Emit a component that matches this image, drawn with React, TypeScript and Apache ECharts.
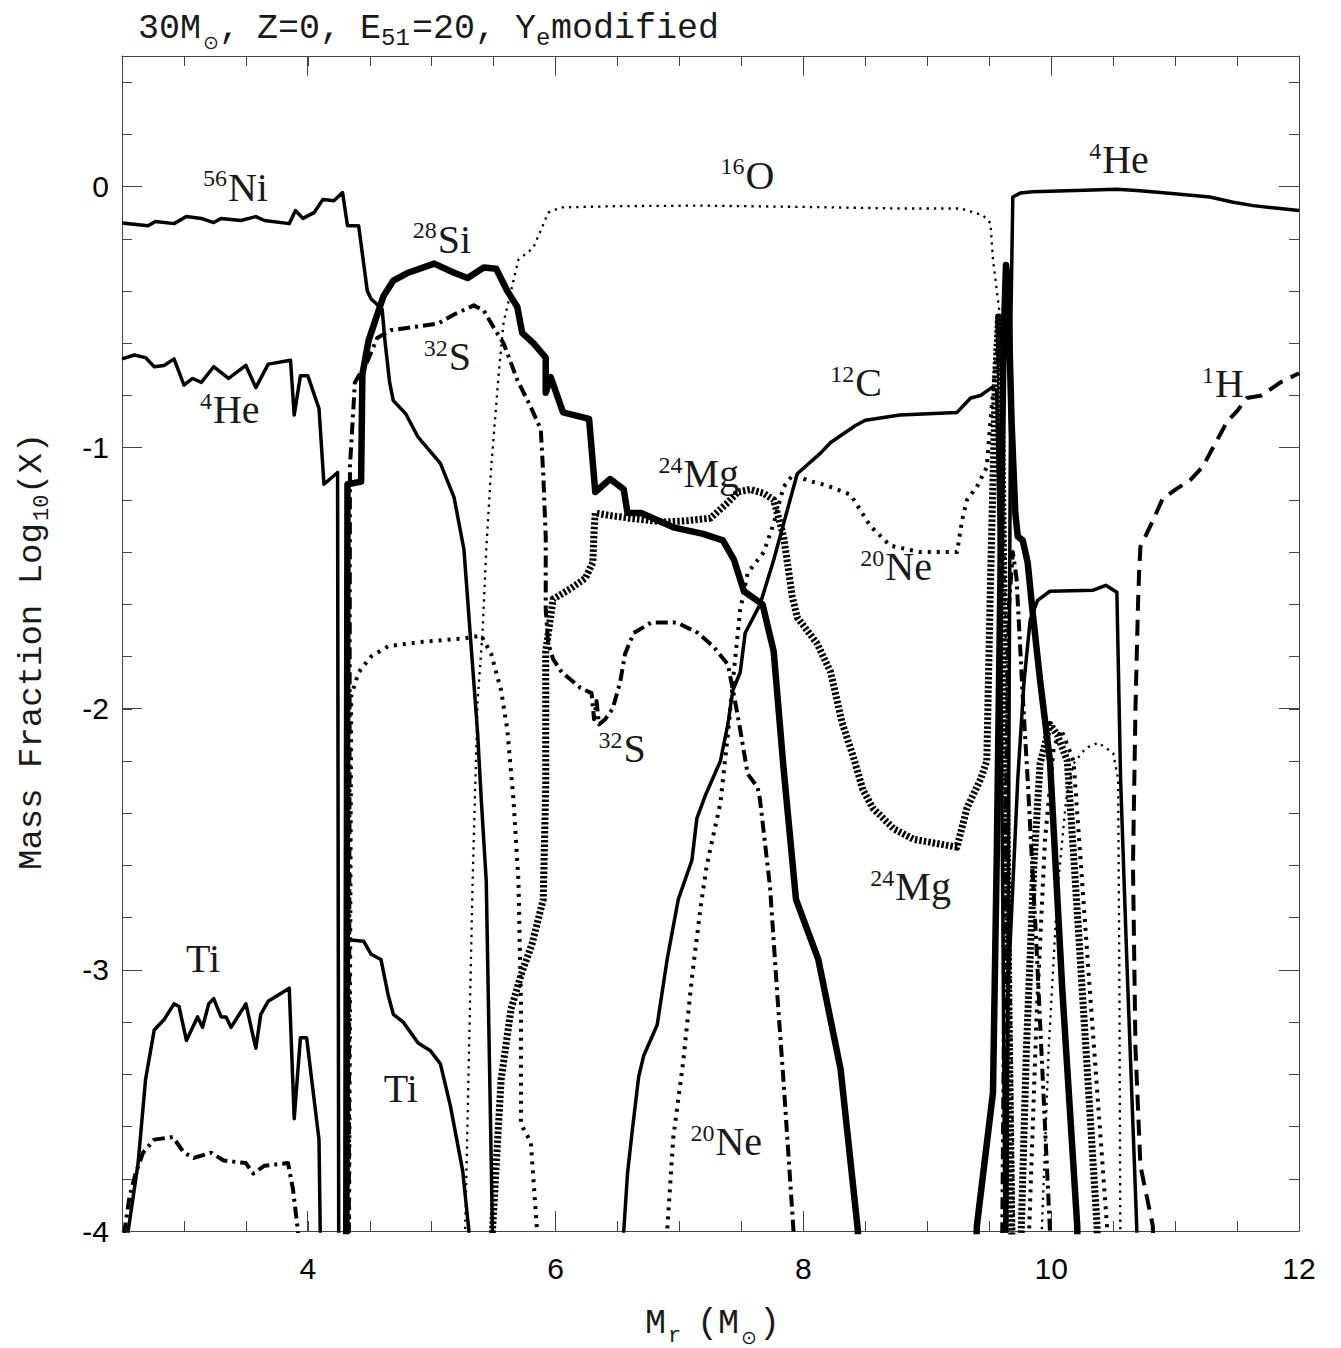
import React, { useEffect, useRef } from 'react';
import * as echarts from 'echarts';

type XY = [number, number];

// Axis ranges and tick spacing
const X_MIN = 2.5;
const X_MAX = 12;
const Y_MIN = -4;
const Y_MAX = 0.5;
const X_MINOR = 0.5;
const Y_MINOR = 0.2;
const X_MAJOR = 2;
const Y_MAJOR = 1;

// Abundance profiles: mass coordinate (Msun) vs log10 mass fraction
const ni56: XY[] = [[2.5,-0.14],[2.71,-0.15],[2.77,-0.134],[2.92,-0.142],[3.02,-0.115],[3.14,-0.122],[3.24,-0.138],[3.30,-0.122],[3.46,-0.13],[3.58,-0.115],[3.65,-0.13],[3.85,-0.142],[3.90,-0.092],[3.96,-0.122],[4.05,-0.10],[4.12,-0.05],[4.21,-0.054],[4.28,-0.023],[4.32,-0.15],[4.41,-0.15],[4.48,-0.40],[4.51,-0.43],[4.60,-0.47],[4.62,-0.58],[4.66,-0.75],[4.69,-0.82],[4.79,-0.87],[4.89,-0.96],[5.07,-1.06],[5.18,-1.19],[5.26,-1.39],[5.31,-1.71],[5.37,-2.09],[5.40,-2.35],[5.44,-2.66],[5.49,-4.0],[5.495,-4.3]];

const he4Inner: XY[] = [[2.5,-0.66],[2.60,-0.645],[2.69,-0.655],[2.76,-0.69],[2.84,-0.685],[2.92,-0.66],[3.00,-0.76],[3.07,-0.735],[3.14,-0.75],[3.24,-0.69],[3.36,-0.735],[3.50,-0.685],[3.58,-0.77],[3.68,-0.68],[3.86,-0.665],[3.89,-0.875],[3.94,-0.725],[4.00,-0.725],[4.09,-0.85],[4.13,-1.14],[4.24,-1.095],[4.25,-4.3]];

const he4Outer: XY[] = [[9.64,-4.3],[9.66,-2.0],[9.675,-0.5],[9.69,-0.04],[9.75,-0.025],[9.85,-0.02],[10.2,-0.015],[10.53,-0.01],[10.69,-0.015],[10.93,-0.025],[11.28,-0.04],[11.47,-0.06],[11.63,-0.073],[12.0,-0.092]];

const si28Inner: XY[] = [[4.305,-4.3],[4.31,-4.0],[4.32,-1.14],[4.43,-1.13],[4.44,-0.72],[4.49,-0.59],[4.61,-0.42],[4.69,-0.36],[4.81,-0.33],[5.02,-0.295],[5.18,-0.33],[5.29,-0.35],[5.42,-0.31],[5.52,-0.315],[5.61,-0.40],[5.69,-0.46],[5.73,-0.56],[5.82,-0.60],[5.92,-0.655],[5.92,-0.79],[5.96,-0.73],[6.06,-0.865],[6.27,-0.89],[6.32,-1.17],[6.44,-1.12],[6.55,-1.16],[6.58,-1.25],[6.69,-1.25],[6.95,-1.305],[7.19,-1.33],[7.35,-1.355],[7.44,-1.43],[7.52,-1.55],[7.67,-1.60],[7.76,-1.78],[7.84,-2.23],[7.94,-2.73],[8.12,-2.96],[8.30,-3.38],[8.44,-4.0],[8.45,-4.3]];

const si28Outer: XY[] = [[9.38,-4.3],[9.40,-3.98],[9.53,-3.47],[9.56,-2.58],[9.59,-1.5],[9.615,-0.6],[9.635,-0.3],[9.65,-0.36],[9.68,-0.9],[9.71,-1.25],[9.73,-1.34],[9.77,-1.355],[9.81,-1.44],[9.85,-1.63],[9.91,-1.89],[9.99,-2.20],[10.09,-3.08],[10.21,-3.98],[10.22,-4.3]];

const s32Inner: XY[] = [[4.33,-4.3],[4.34,-1.07],[4.38,-0.75],[4.48,-0.67],[4.56,-0.58],[4.67,-0.55],[5.05,-0.525],[5.18,-0.49],[5.34,-0.455],[5.42,-0.475],[5.50,-0.54],[5.58,-0.60],[5.69,-0.74],[5.80,-0.845],[5.88,-0.93],[5.90,-1.10],[5.92,-1.34],[5.92,-1.62],[5.94,-1.75],[5.98,-1.81],[6.05,-1.86],[6.20,-1.92],[6.29,-1.94],[6.31,-2.04],[6.33,-1.97],[6.35,-2.06],[6.40,-2.04],[6.46,-2.0],[6.52,-1.90],[6.56,-1.79],[6.63,-1.71],[6.77,-1.67],[6.98,-1.67],[7.15,-1.71],[7.27,-1.76],[7.39,-1.83],[7.44,-1.95],[7.49,-2.08],[7.55,-2.25],[7.63,-2.30],[7.65,-2.35],[7.73,-2.68],[7.79,-3.10],[7.84,-3.43],[7.92,-4.0],[7.93,-4.3]];

const s32Outer: XY[] = [[9.60,-4.3],[9.63,-2.5],[9.66,-1.6],[9.69,-1.40],[9.72,-1.5],[9.77,-1.95],[9.81,-2.27],[9.88,-2.9],[9.94,-3.5],[9.99,-4.0],[10.0,-4.3]];

const o16Main: XY[] = [[5.26,-4.3],[5.27,-4.0],[5.33,-2.66],[5.37,-1.97],[5.41,-1.71],[5.44,-1.39],[5.48,-1.075],[5.54,-0.72],[5.58,-0.52],[5.70,-0.28],[5.82,-0.235],[5.94,-0.10],[6.04,-0.08],[6.5,-0.075],[7.17,-0.073],[8.0,-0.078],[8.78,-0.084],[9.27,-0.084],[9.45,-0.11],[9.51,-0.14],[9.53,-0.28],[9.59,-0.51],[9.62,-1.3],[9.65,-2.3],[9.68,-3.3],[9.71,-4.3]];

const o16Outer: XY[] = [[9.90,-4.3],[9.98,-3.3],[10.05,-2.7],[10.12,-2.35],[10.18,-2.21],[10.28,-2.15],[10.38,-2.13],[10.50,-2.17],[10.54,-2.27],[10.55,-3.0],[10.56,-4.3]];

const ne20Inner: XY[] = [[4.33,-4.3],[4.35,-1.95],[4.41,-1.86],[4.51,-1.80],[4.65,-1.76],[4.90,-1.745],[5.27,-1.73],[5.40,-1.72],[5.48,-1.79],[5.56,-1.93],[5.61,-2.08],[5.66,-2.35],[5.70,-2.66],[5.72,-3.12],[5.72,-3.59],[5.80,-3.66],[5.85,-4.0],[5.86,-4.3]];

const ne20Main: XY[] = [[6.89,-4.3],[6.90,-4.0],[6.95,-3.64],[7.03,-3.35],[7.10,-3.03],[7.17,-2.76],[7.22,-2.60],[7.33,-2.36],[7.39,-2.10],[7.44,-1.85],[7.49,-1.62],[7.55,-1.48],[7.68,-1.40],[7.76,-1.29],[7.84,-1.15],[7.92,-1.10],[8.03,-1.125],[8.19,-1.145],[8.38,-1.18],[8.54,-1.30],[8.70,-1.375],[8.94,-1.40],[9.24,-1.40],[9.28,-1.28],[9.32,-1.20],[9.40,-1.15],[9.48,-1.075],[9.51,-0.895],[9.56,-0.64],[9.585,-0.55],[9.61,-1.5],[9.64,-2.6],[9.67,-3.6],[9.69,-4.3]];

const ne20Outer: XY[] = [[9.80,-4.3],[9.88,-3.2],[9.95,-2.5],[10.02,-2.15],[10.08,-2.08],[10.14,-2.15],[10.18,-2.2],[10.30,-3.0],[10.45,-3.98],[10.47,-4.3]];

const mg24Main: XY[] = [[5.48,-4.3],[5.49,-4.0],[5.56,-3.42],[5.64,-3.15],[5.72,-3.02],[5.81,-2.90],[5.90,-2.73],[5.92,-2.3],[5.92,-1.78],[5.98,-1.58],[6.12,-1.54],[6.24,-1.50],[6.30,-1.44],[6.31,-1.32],[6.32,-1.25],[6.44,-1.26],[6.60,-1.27],[6.87,-1.285],[7.06,-1.28],[7.25,-1.27],[7.39,-1.21],[7.47,-1.17],[7.57,-1.16],[7.68,-1.175],[7.76,-1.20],[7.80,-1.27],[7.84,-1.34],[7.91,-1.57],[7.95,-1.65],[8.11,-1.75],[8.22,-1.86],[8.31,-2.05],[8.40,-2.18],[8.48,-2.31],[8.56,-2.38],[8.73,-2.46],[8.89,-2.50],[9.24,-2.53],[9.32,-2.38],[9.43,-2.27],[9.48,-2.20],[9.51,-1.51],[9.53,-1.125],[9.55,-0.74],[9.575,-0.5],[9.60,-0.9],[9.62,-1.6],[9.64,-2.3],[9.66,-3.2],[9.69,-4.3]];

const mg24Outer: XY[] = [[9.74,-4.3],[9.80,-3.3],[9.86,-2.6],[9.91,-2.21],[9.99,-2.06],[10.05,-2.1],[10.13,-2.2],[10.2,-2.7],[10.28,-3.3],[10.37,-3.98],[10.38,-4.3]];

const c12: XY[] = [[6.54,-4.3],[6.55,-4.0],[6.58,-3.78],[6.62,-3.61],[6.67,-3.41],[6.71,-3.33],[6.82,-3.21],[6.90,-2.96],[6.99,-2.73],[7.10,-2.58],[7.14,-2.42],[7.21,-2.33],[7.33,-2.20],[7.39,-2.06],[7.43,-1.93],[7.49,-1.86],[7.53,-1.71],[7.65,-1.60],[7.76,-1.43],[7.95,-1.10],[8.14,-1.02],[8.22,-0.98],[8.42,-0.915],[8.50,-0.895],[8.78,-0.875],[9.24,-0.865],[9.35,-0.81],[9.43,-0.80],[9.52,-0.77],[9.56,-0.78],[9.59,-1.6],[9.61,-2.8],[9.63,-4.3],[9.65,-3.09],[9.73,-2.27],[9.78,-1.90],[9.83,-1.66],[9.89,-1.585],[9.99,-1.55],[10.34,-1.546],[10.44,-1.527],[10.53,-1.554],[10.56,-2.27],[10.61,-2.96],[10.69,-3.98],[10.70,-4.3]];

const h1: XY[] = [[10.84,-4.3],[10.82,-3.98],[10.72,-3.75],[10.68,-3.3],[10.66,-2.6],[10.68,-2.0],[10.70,-1.61],[10.71,-1.47],[10.72,-1.38],[10.82,-1.28],[10.90,-1.195],[11.02,-1.155],[11.12,-1.125],[11.22,-1.075],[11.34,-0.97],[11.42,-0.90],[11.50,-0.86],[11.58,-0.81],[11.70,-0.80],[11.85,-0.75],[12.0,-0.715]];

const tiInner: XY[] = [[2.545,-4.3],[2.55,-4.0],[2.63,-3.74],[2.69,-3.42],[2.76,-3.23],[2.84,-3.19],[2.92,-3.13],[2.96,-3.14],[3.02,-3.27],[3.11,-3.18],[3.15,-3.22],[3.20,-3.13],[3.24,-3.11],[3.30,-3.18],[3.34,-3.18],[3.38,-3.22],[3.50,-3.13],[3.58,-3.30],[3.62,-3.17],[3.68,-3.12],[3.85,-3.07],[3.89,-3.57],[3.94,-3.26],[3.99,-3.26],[4.09,-3.65],[4.10,-4.0],[4.105,-4.3]];

const tiOuter: XY[] = [[4.32,-4.3],[4.325,-2.885],[4.45,-2.89],[4.51,-2.94],[4.59,-2.96],[4.65,-3.10],[4.69,-3.17],[4.77,-3.20],[4.89,-3.28],[4.99,-3.31],[5.07,-3.36],[5.15,-3.52],[5.25,-3.77],[5.30,-4.0],[5.31,-4.3]];

const lowDashDot: XY[] = [[2.515,-4.3],[2.52,-4.0],[2.56,-3.87],[2.61,-3.78],[2.67,-3.70],[2.76,-3.65],[2.91,-3.64],[3.00,-3.70],[3.08,-3.72],[3.22,-3.70],[3.32,-3.73],[3.50,-3.74],[3.56,-3.78],[3.65,-3.75],[3.84,-3.74],[3.88,-3.84],[3.92,-4.0],[3.925,-4.3]];

// Line styles
const SOLID = { width: 3.5, type: 'solid' as const };
const SOLID_HEAVY = { width: 6.5, type: 'solid' as const };
const DASH_DOT = { width: 4, type: [12, 5, 3, 5] };
const DOT_FINE = { width: 2.3, type: [2.3, 5] };
const DOT_MED = { width: 4, type: [3, 6] };
const DOT_HEAVY = { width: 7, type: [2.5, 2] };
const DASHED = { width: 4, type: [16, 9] };

const curves: { name: string; data: XY[]; style: any }[] = [
  { name: 'O16-a', data: o16Main, style: DOT_FINE },
  { name: 'O16-b', data: o16Outer, style: DOT_FINE },
  { name: 'Ne20-a', data: ne20Inner, style: DOT_MED },
  { name: 'Ne20-b', data: ne20Main, style: DOT_MED },
  { name: 'Ne20-c', data: ne20Outer, style: DOT_MED },
  { name: 'Mg24-a', data: mg24Main, style: DOT_HEAVY },
  { name: 'Mg24-b', data: mg24Outer, style: DOT_HEAVY },
  { name: 'S32-a', data: s32Inner, style: DASH_DOT },
  { name: 'S32-b', data: s32Outer, style: DASH_DOT },
  { name: 'low-dd', data: lowDashDot, style: DASH_DOT },
  { name: 'H1', data: h1, style: DASHED },
  { name: 'Ti-a', data: tiInner, style: SOLID },
  { name: 'Ti-b', data: tiOuter, style: SOLID },
  { name: 'C12', data: c12, style: SOLID },
  { name: 'He4-a', data: he4Inner, style: SOLID },
  { name: 'He4-b', data: he4Outer, style: SOLID },
  { name: 'Ni56', data: ni56, style: SOLID },
  { name: 'Si28-a', data: si28Inner, style: SOLID_HEAVY },
  { name: 'Si28-b', data: si28Outer, style: SOLID_HEAVY },
];

// Species labels: superscript mass number, element, anchor (left of element text, baseline)
const curveLabels: { sup: string; text: string; at: XY }[] = [
  { sup: '56', text: 'Ni', at: [3.355, -0.054] },
  { sup: '28', text: 'Si', at: [5.048, -0.253] },
  { sup: '32', text: 'S', at: [5.137, -0.704] },
  { sup: '4', text: 'He', at: [3.234, -0.907] },
  { sup: '16', text: 'O', at: [7.532, -0.008] },
  { sup: '4', text: 'He', at: [10.411, 0.05] },
  { sup: '12', text: 'C', at: [8.419, -0.804] },
  { sup: '1', text: 'H', at: [11.323, -0.807] },
  { sup: '24', text: 'Mg', at: [7.032, -1.152] },
  { sup: '20', text: 'Ne', at: [8.661, -1.508] },
  { sup: '32', text: 'S', at: [6.548, -2.204] },
  { sup: '24', text: 'Mg', at: [8.742, -2.732] },
  { sup: '20', text: 'Ne', at: [7.29, -3.708] },
  { sup: '', text: 'Ti', at: [3.016, -3.008] },
  { sup: '', text: 'Ti', at: [4.613, -3.506] },
];

const W = 1341;
const H = 1348;
const PLOT = { left: 122, right: 1299, top: 56, bottom: 1231 };

const SERIF = "'Liberation Serif', 'DejaVu Serif', serif";
const MONO = "'Liberation Mono', 'DejaVu Sans Mono', monospace";
const SYMBOL = "'DejaVu Sans', 'Noto Sans', sans-serif";
const SANS = "'Liberation Sans', Arial, sans-serif";
const AXIS_COLOR = '#444';
const TEXT_COLOR = '#1a1a1a';

const isMultiple = (v: number, step: number) => Math.abs(v / step - Math.round(v / step)) < 1e-6;

function txt(x: number, y: number, text: string, font: string, size: number, align: string, extra: any = {}) {
  return {
    type: 'text',
    x,
    y,
    silent: true,
    ...extra,
    style: {
      text,
      fontFamily: font,
      fontSize: size,
      fill: TEXT_COLOR,
      textAlign: align,
      align,
      textVerticalAlign: 'middle',
      verticalAlign: 'middle',
    },
  };
}

// baseline -> centre line offsets for each face
const K_SERIF = 0.34;
const K_MONO = 0.27;

export default function App() {
  const ref = useRef<HTMLDivElement>(null);

  useEffect(() => {
    if (!ref.current) return;
    const chart = echarts.init(ref.current, undefined, { renderer: 'svg', width: W, height: H });

    const gridMain = { left: PLOT.left, right: W - PLOT.right, top: PLOT.top, bottom: H - PLOT.bottom };
    const gridXMajor = { left: 307, right: W - PLOT.right, top: PLOT.top, bottom: H - PLOT.bottom };
    const gridYMajor = { left: PLOT.left, right: W - PLOT.right, top: 186, bottom: H - PLOT.bottom };

    const tickLine = { lineStyle: { color: AXIS_COLOR, width: 1 } };

    const minorX = (position: 'top' | 'bottom', labels: boolean) => ({
      type: 'value',
      gridIndex: 0,
      position,
      min: X_MIN,
      max: X_MAX,
      interval: X_MINOR,
      axisLine: { show: true, onZero: false, lineStyle: { color: AXIS_COLOR, width: 1 } },
      axisTick: { show: true, inside: true, length: 10, ...tickLine },
      splitLine: { show: false },
      axisLabel: {
        show: labels,
        margin: 22,
        fontFamily: SANS,
        fontSize: 30,
        color: '#000',
        formatter: (v: number) => (isMultiple(v, X_MAJOR) && v >= 4 ? String(Math.round(v)) : ''),
      },
    });
    const minorY = (position: 'left' | 'right', labels: boolean) => ({
      type: 'value',
      gridIndex: 0,
      position,
      min: Y_MIN,
      max: Y_MAX,
      interval: Y_MINOR,
      axisLine: { show: true, onZero: false, lineStyle: { color: AXIS_COLOR, width: 1 } },
      axisTick: { show: true, inside: true, length: 10, ...tickLine },
      splitLine: { show: false },
      axisLabel: {
        show: labels,
        margin: 13,
        fontFamily: SANS,
        fontSize: 30,
        color: '#000',
        formatter: (v: number) => (isMultiple(v, Y_MAJOR) && v <= 0 ? String(Math.round(v)) : ''),
      },
    });
    const majorX = (position: 'top' | 'bottom') => ({
      type: 'value',
      gridIndex: 1,
      position,
      min: 4,
      max: X_MAX,
      interval: X_MAJOR,
      axisLine: { show: false },
      axisTick: { show: true, inside: true, length: 20, ...tickLine },
      axisLabel: { show: false },
      splitLine: { show: false },
    });
    const majorY = (position: 'left' | 'right') => ({
      type: 'value',
      gridIndex: 2,
      position,
      min: Y_MIN,
      max: 0,
      interval: Y_MAJOR,
      axisLine: { show: false },
      axisTick: { show: true, inside: true, length: 20, ...tickLine },
      axisLabel: { show: false },
      splitLine: { show: false },
    });

    const option: any = {
      animation: false,
      backgroundColor: '#fff',
      grid: [gridMain, gridXMajor, gridYMajor],
      xAxis: [
        minorX('bottom', true),
        minorX('top', false),
        majorX('bottom'),
        majorX('top'),
        { type: 'value', gridIndex: 2, show: false, min: 0, max: 1 },
      ],
      yAxis: [
        minorY('left', true),
        minorY('right', false),
        { type: 'value', gridIndex: 1, show: false, min: 0, max: 1 },
        majorY('left'),
        majorY('right'),
      ],
      series: curves.map((c) => ({
        name: c.name,
        type: 'line',
        xAxisIndex: 0,
        yAxisIndex: 0,
        data: c.data,
        showSymbol: false,
        symbol: 'none',
        clip: true,
        silent: true,
        lineStyle: { color: '#000', width: c.style.width, type: c.style.type, cap: 'butt', join: 'round' },
      })),
    };
    chart.setOption(option);

    const toPx = (p: XY) => chart.convertToPixel({ xAxisIndex: 0, yAxisIndex: 0 }, p) as number[];

    const graphics: any[] = [];

    // species labels
    const LBL = 40;
    const SUP = 24;
    curveLabels.forEach((l) => {
      const [px, py] = toPx(l.at);
      graphics.push(txt(px, py - K_SERIF * LBL, l.text, SERIF, LBL, 'left'));
      if (l.sup) graphics.push(txt(px - 1, py - 14 - K_SERIF * SUP, l.sup, SERIF, SUP, 'right'));
    });

    // title: 30M⊙, Z=0, E51=20, Ye modified
    const TB = 38;
    const TS = 35;
    const SS = 24;
    const title: [number, string, number, number, string][] = [
      [138, '30M', TB, TS, MONO],
      [203, '\u2299', TB + 9, 19, SYMBOL],
      [219, ',', TB, TS, MONO],
      [257, 'Z=0,', TB, TS, MONO],
      [360, 'E', TB, TS, MONO],
      [381, '51', TB + 7, SS, MONO],
      [412, '=20,', TB, TS, MONO],
      [515, 'Y', TB, TS, MONO],
      [536, 'e', TB + 7, SS, MONO],
      [551, 'modified', TB, TS, MONO],
    ];
    title.forEach(([x, s, b, fs, f]) => graphics.push(txt(x, b - K_MONO * fs, s, f, fs, 'left')));

    // x-axis name: M_r (M⊙)
    const XB = 1333;
    const xname: [number, string, number, number, string][] = [
      [645, 'M', XB, 35, MONO],
      [668, 'r', XB + 9, 22, MONO],
      [697, '(M', XB, 35, MONO],
      [741, '\u2299', XB + 9, 19, SYMBOL],
      [759, ')', XB, 35, MONO],
    ];
    xname.forEach(([x, s, b, fs, f]) => graphics.push(txt(x, b - K_MONO * fs, s, f, fs, 'left')));

    // y-axis name, rotated: Mass Fraction Log_10(X)
    const YB = 41;
    const yname: [number, string, number, number][] = [
      [870, 'Mass Fraction Log', YB, 34],
      [521, '10', YB + 7, 22],
      [494, '(X)', YB, 34],
    ];
    yname.forEach(([y, s, b, fs]) =>
      graphics.push(txt(b - K_MONO * fs, y, s, MONO, fs, 'left', { rotation: Math.PI / 2 }))
    );

    chart.setOption({ graphic: graphics });

    return () => chart.dispose();
  }, []);

  return (
    <div
      ref={ref}
      style={{ position: 'fixed', left: 0, top: 0, width: W, height: H, background: '#fff' }}
    />
  );
}
